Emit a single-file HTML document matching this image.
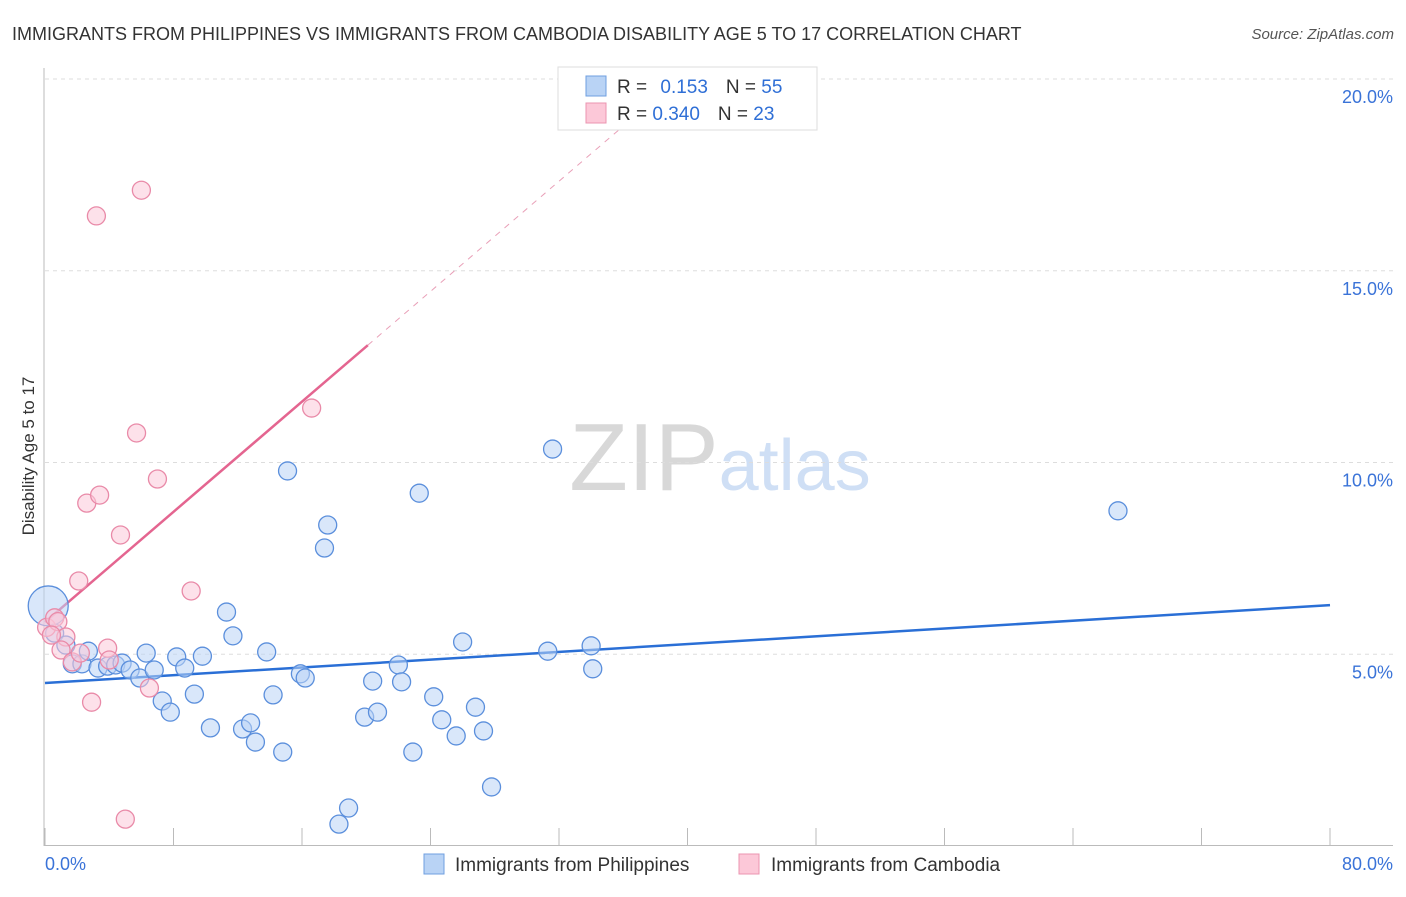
<!DOCTYPE html>
<html><head><meta charset="utf-8"><style>
body{margin:0;background:#fff;font-family:"Liberation Sans",sans-serif}
text{font-family:"Liberation Sans",sans-serif}
</style></head><body>
<svg id="chart" width="1406" height="892" xmlns="http://www.w3.org/2000/svg">
<text x="12" y="40" font-size="18" fill="#333">IMMIGRANTS FROM PHILIPPINES VS IMMIGRANTS FROM CAMBODIA DISABILITY AGE 5 TO 17 CORRELATION CHART</text>
<text x="1394" y="39" font-size="15" fill="#555" text-anchor="end" font-style="italic">Source: ZipAtlas.com</text>
<text x="720" y="490" font-size="96" text-anchor="middle" fill="#ddd" font-family="Liberation Serif"><tspan fill="#d8d8d8">ZIP</tspan><tspan fill="#cfdff5" font-family="Liberation Sans" font-size="72">atlas</tspan></text>
<g id="grid"></g><g id="axes"></g><g id="trends"></g><g id="points"></g>
<text transform="translate(34,456) rotate(-90)" font-size="17" fill="#333" text-anchor="middle">Disability Age 5 to 17</text>
<g>
<rect x="558" y="67" width="259" height="63" fill="#fff" stroke="#ddd"/>
<rect x="586" y="76" width="20" height="20" fill="#b9d3f5" stroke="#6f9fe0"/>
<rect x="586" y="103" width="20" height="20" fill="#fcc8d8" stroke="#eb95b0"/>
<text x="617" y="93" font-size="19" fill="#333">R = <tspan fill="#2f6fd6" dx="8">0.153</tspan><tspan dx="18" fill="#333">N = </tspan><tspan fill="#2f6fd6">55</tspan></text>
<text x="617" y="120" font-size="19" fill="#333">R = <tspan fill="#2f6fd6">0.340</tspan><tspan dx="18" fill="#333">N = </tspan><tspan fill="#2f6fd6">23</tspan></text>
</g>
<g>
<rect x="424" y="854" width="20" height="20" fill="#b9d3f5" stroke="#6f9fe0"/>
<text x="455" y="871" font-size="19" fill="#333">Immigrants from Philippines</text>
<rect x="739" y="854" width="20" height="20" fill="#fcc8d8" stroke="#eb95b0"/>
<text x="771" y="871" font-size="19" fill="#333">Immigrants from Cambodia</text>
</g>
</svg>
<script>
const xTicks=[0,10,20,30,40,50,60,70,80];
const yTicks=[5,10,15,20];
const blueX=[0.2,0.6,1.3,1.7,2.3,2.7,3.3,3.9,4.4,4.8,5.3,5.9,6.3,6.8,7.3,7.8,8.2,8.7,9.3,9.8,10.3,11.3,11.7,12.3,12.8,13.1,13.8,14.2,14.8,15.1,15.9,16.2,17.4,17.6,18.3,18.9,19.9,20.4,20.7,22.0,22.2,22.9,23.3,24.2,24.7,25.6,26.0,26.8,27.3,27.8,31.3,31.6,34.0,34.1,66.8];
const blueY=[6.26,5.55,5.24,4.75,4.75,5.08,4.64,4.69,4.72,4.77,4.59,4.38,5.03,4.59,3.78,3.49,4.93,4.64,3.96,4.95,3.08,6.10,5.48,3.05,3.21,2.71,5.06,3.94,2.45,9.78,4.49,4.38,7.77,8.37,0.57,0.99,3.36,4.30,3.49,4.72,4.28,2.45,9.2,3.89,3.29,2.87,5.32,3.62,3.0,1.54,5.08,10.35,5.22,4.62,8.74];
const pinkX=[0.1,0.6,0.8,1.3,1.0,1.7,2.1,2.2,2.6,2.9,3.2,3.4,3.9,4.0,4.7,5.0,5.7,6.0,6.5,7.0,9.1,16.6,0.4];
const pinkY=[5.7,5.95,5.85,5.45,5.11,4.8,6.91,5.03,8.94,3.75,16.43,9.15,5.16,4.85,8.11,0.7,10.77,17.1,4.12,9.57,6.65,11.42,5.5];
const blueTrend=[4.25,6.28];
const pinkTrend=[5.84,13.06];
const pinkSolidEnd=20.1;
const NS="http://www.w3.org/2000/svg";
const X=v=>45+v/80*1285, Y=v=>846-v*38.35;
function mk(t,a,p){const e=document.createElementNS(NS,t);for(const k in a)e.setAttribute(k,a[k]);document.getElementById(p).appendChild(e);return e;}
yTicks.forEach(t=>{
 const l=mk('line',{x1:45,x2:1393,y1:Y(t),y2:Y(t),stroke:'#ddd','stroke-dasharray':'4,4'},'grid');
 
 
 const tx=mk('text',{x:1393,y:Y(t)+24,'font-size':18,fill:'#3a73d8','text-anchor':'end'},'grid');
 tx.textContent=t.toFixed(1)+'%';
 
 
});
mk('line',{x1:44,x2:44,y1:68,y2:846,stroke:'#bbb'},'axes');
mk('line',{x1:44,x2:1393,y1:845.5,y2:845.5,stroke:'#bbb'},'axes');
for(let i=0;i<=10;i++){const v=i*8;const l=mk('line',{x1:X(v),x2:X(v),y1:828,y2:846,stroke:'#bbb'},'axes');
 
 }
[[0,'0.0%','start',45],[80,'80.0%','end',1393]].forEach(d=>{const t=mk('text',{x:d[3],y:870,'font-size':18,fill:'#3a73d8','text-anchor':d[2]},'axes');t.textContent=d[1];
 
 });
function drawPts(xs,ys,fill,stroke,nm){xs.forEach((x,i)=>{const r=(i===0&&nm==='blue-point')?20:9;
 const c=mk('circle',{cx:X(x),cy:Y(ys[i]),r:r,fill:fill,'fill-opacity':0.55,stroke:stroke,'stroke-width':1.3},'points');
 
 });}
drawPts(blueX,blueY,'#b9d3f5','#5b8fdc','blue-point');
drawPts(pinkX,pinkY,'#fcc8d8','#e98aa8','pink-point');
const bt=mk('line',{x1:X(0),y1:Y(blueTrend[0]),x2:X(80),y2:Y(blueTrend[1]),stroke:'#2a6fd6','stroke-width':2.5},'trends');


const ps=(pinkTrend[1]-pinkTrend[0])/20.1;
const py=v=>pinkTrend[0]+ps*v;
const pt=mk('line',{x1:X(0),y1:Y(py(0)),x2:X(pinkSolidEnd),y2:Y(py(pinkSolidEnd)),stroke:'#e46590','stroke-width':2.5},'trends');


const pd=mk('line',{x1:X(pinkSolidEnd),y1:Y(py(pinkSolidEnd)),x2:X(40),y2:Y(py(40)),stroke:'#e9a0b8','stroke-width':1,'stroke-dasharray':'6,6'},'trends');


</script>
</body></html>
